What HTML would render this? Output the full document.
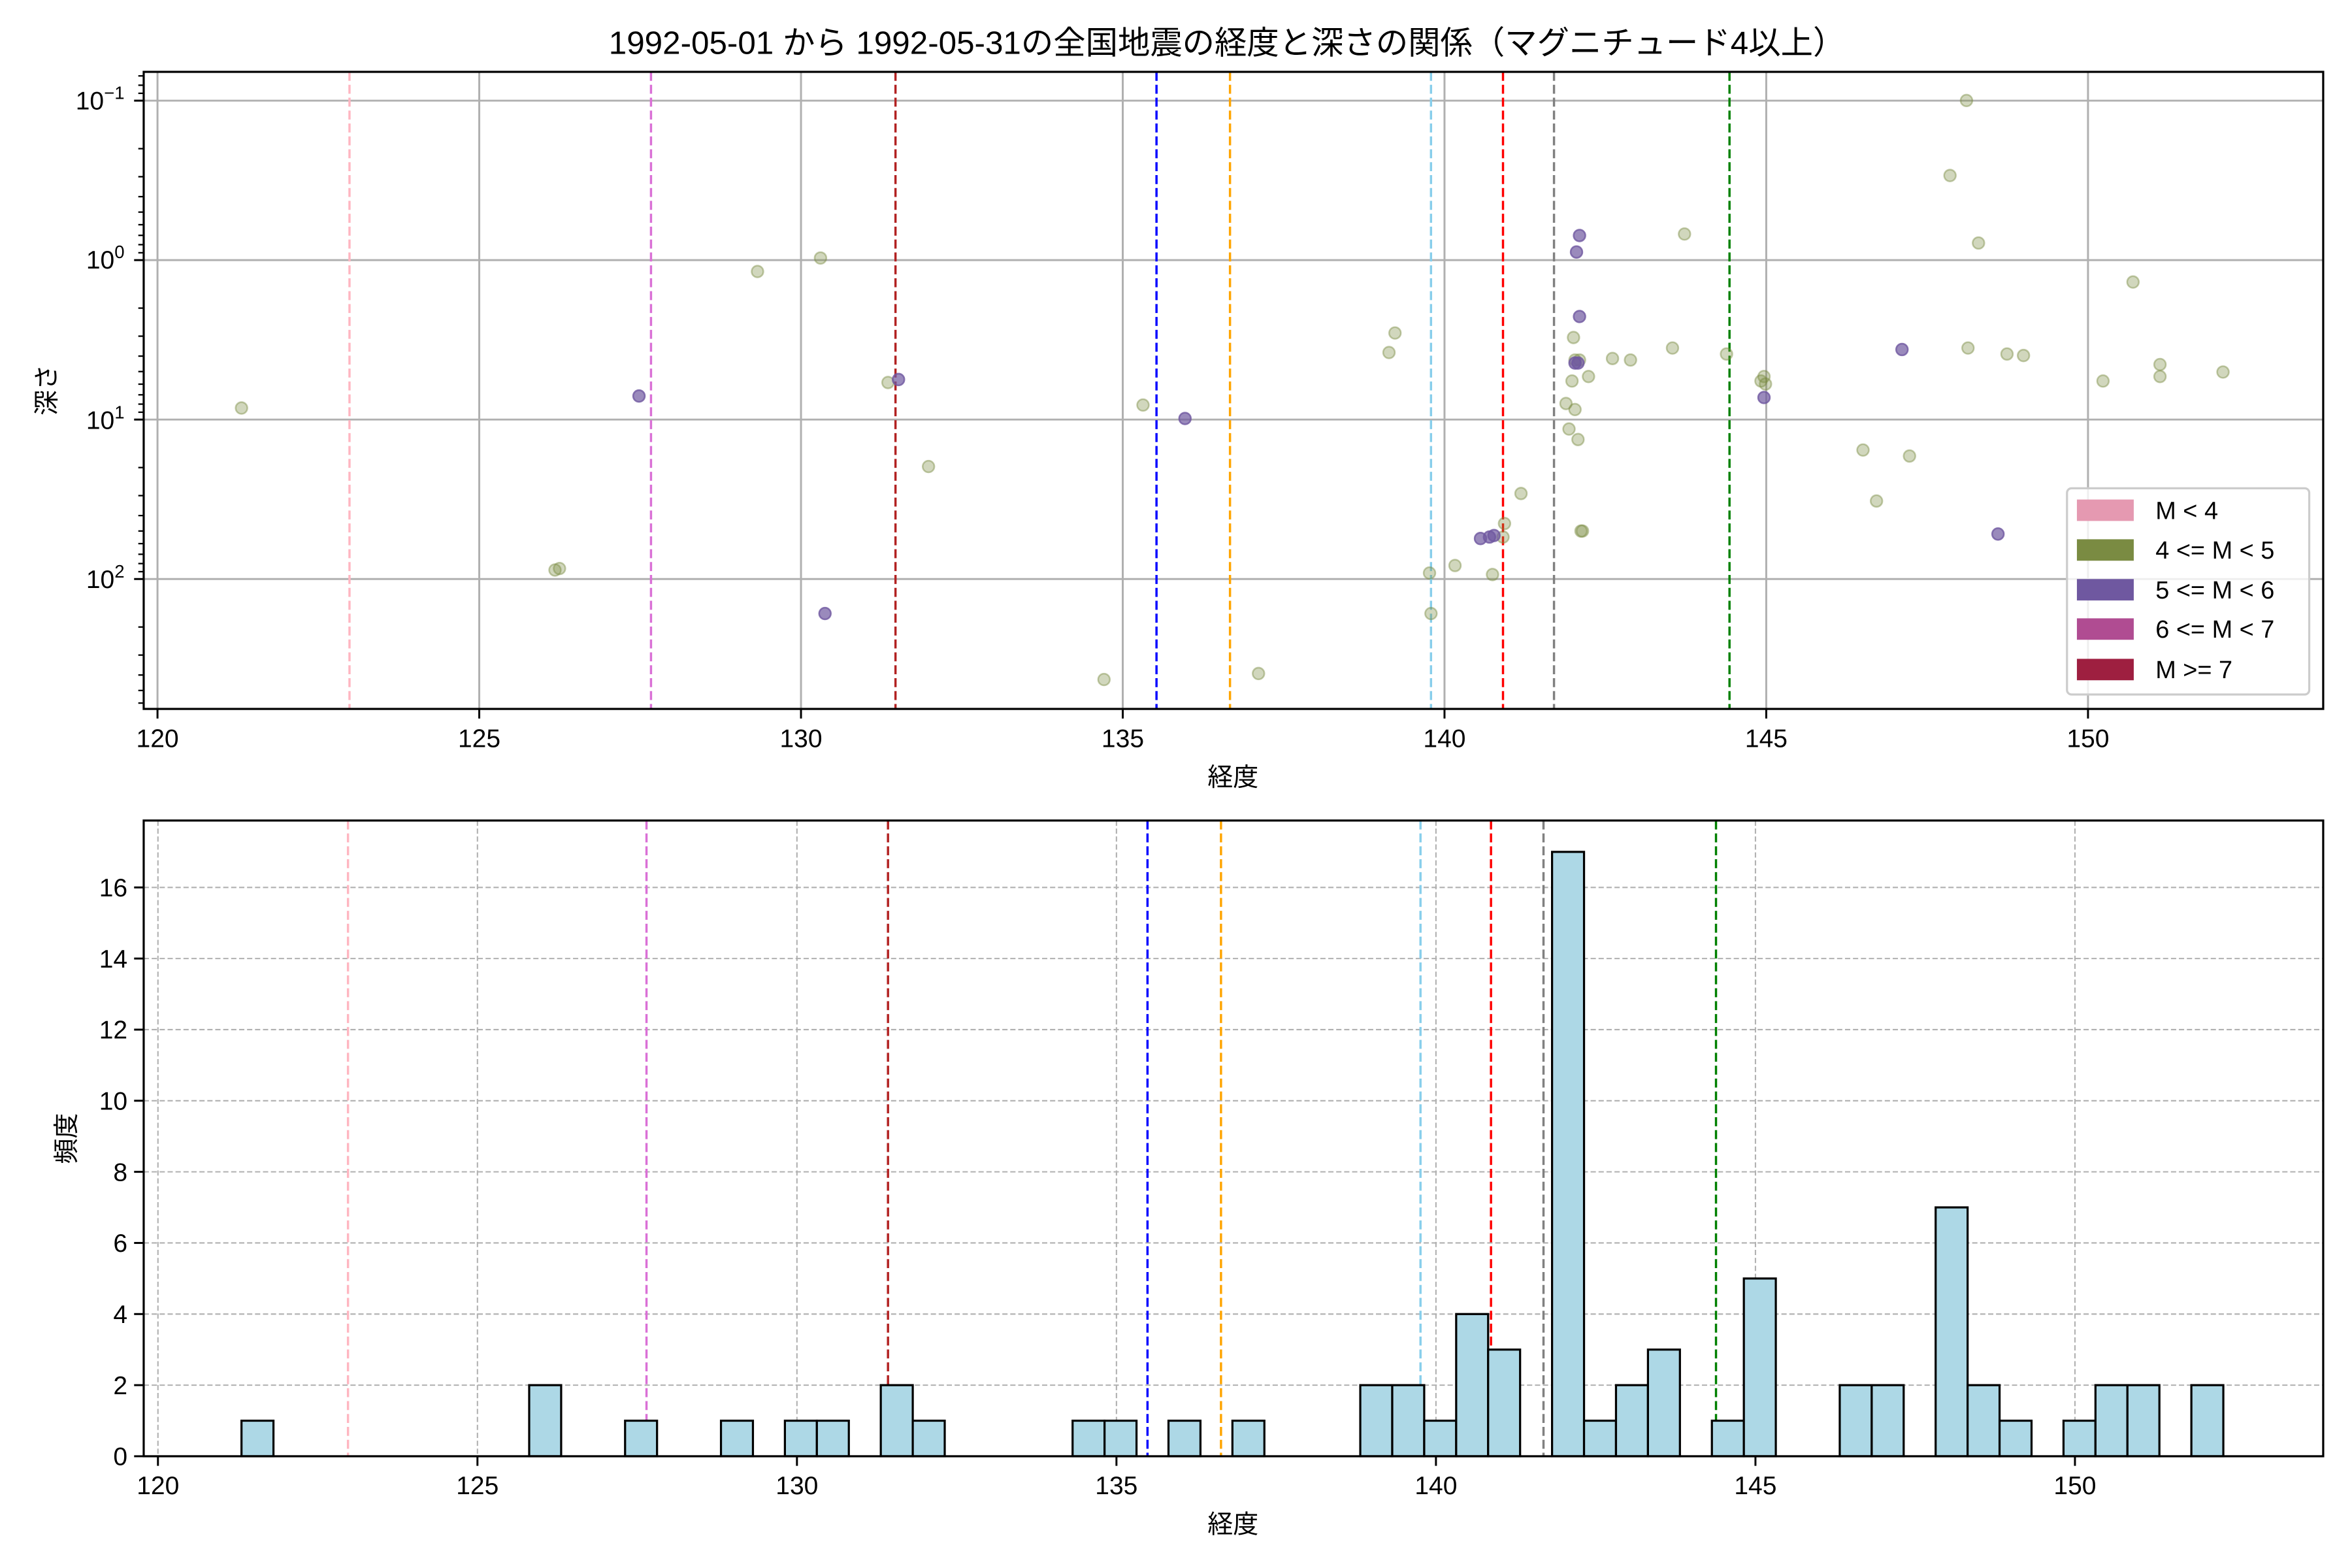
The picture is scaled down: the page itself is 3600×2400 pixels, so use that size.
<!DOCTYPE html>
<html><head><meta charset="utf-8"><style>
html,body{margin:0;padding:0;background:#fff;}
svg{display:block;}
text{font-family:"Liberation Sans","Noto Sans CJK JP",sans-serif;fill:#000;}
</style></head><body>
<svg id="s" width="3600" height="2400" viewBox="0 0 1568 1045.3" preserveAspectRatio="none" xmlns="http://www.w3.org/2000/svg">
<rect width="1568" height="1046" fill="#fff"/>
<g id="g1"></g>
<g id="g2"></g>
<text x="818" y="36" font-size="21.5" text-anchor="middle">1992-05-01 から 1992-05-31の全国地震の経度と深さの関係（マグニチュード4以上）</text>
<g font-size="17" text-anchor="middle">
<text x="105" y="498">120</text><text x="319.5" y="498">125</text><text x="534" y="498">130</text><text x="748.5" y="498">135</text><text x="963" y="498">140</text><text x="1177.5" y="498">145</text><text x="1392" y="498">150</text>
<text x="822" y="524">経度</text>
<text x="105.3" y="996">120</text><text x="318.3" y="996">125</text><text x="531.3" y="996">130</text><text x="744.3" y="996">135</text><text x="957.3" y="996">140</text><text x="1170.3" y="996">145</text><text x="1383.3" y="996">150</text>
<text x="822" y="1022">経度</text>
</g>
<g font-size="17" text-anchor="end">
<text x="83" y="73">10<tspan font-size="12" dy="-7">−1</tspan></text>
<text x="83" y="179">10<tspan font-size="12" dy="-7">0</tspan></text>
<text x="83" y="286">10<tspan font-size="12" dy="-7">1</tspan></text>
<text x="83" y="392">10<tspan font-size="12" dy="-7">2</tspan></text>
<text x="85" y="976.8">0</text><text x="85" y="929.4">2</text><text x="85" y="882">4</text><text x="85" y="834.6">6</text><text x="85" y="787.2">8</text><text x="85" y="739.8">10</text><text x="85" y="692.4">12</text><text x="85" y="645">14</text><text x="85" y="597.6">16</text>
</g>
<text font-size="17" text-anchor="middle" transform="translate(37,260) rotate(-90)">深さ</text>
<text font-size="17" text-anchor="middle" transform="translate(50,759) rotate(-90)">頻度</text>
<rect x="1378" y="325.5" width="161.5" height="137.5" rx="3" fill="#fff" fill-opacity="0.8" stroke="#ccc" stroke-width="1.4"/>
<rect x="1384.6" y="333" width="37.9" height="14.3" fill="#e599b1"/>
<rect x="1384.6" y="359.5" width="37.9" height="14.3" fill="#7a8b42"/>
<rect x="1384.6" y="386" width="37.9" height="14.3" fill="#6f58a0"/>
<rect x="1384.6" y="412.2" width="37.9" height="14.3" fill="#b04c92"/>
<rect x="1384.6" y="439.2" width="37.9" height="14.3" fill="#9e1f40"/>
<g font-size="16.5">
<text x="1437" y="346">M &lt; 4</text>
<text x="1437" y="372.5">4 &lt;= M &lt; 5</text>
<text x="1437" y="399">5 &lt;= M &lt; 6</text>
<text x="1437" y="425.2">6 &lt;= M &lt; 7</text>
<text x="1437" y="452.2">M &gt;= 7</text>
</g>
</svg>
<script>
var NS="http://www.w3.org/2000/svg";
function el(p,t,a){var e=document.createElementNS(NS,t);for(var k in a)e.setAttribute(k,a[k]);p.appendChild(e);return e;}
var g1=document.getElementById('g1'),g2=document.getElementById('g2');
var L=95.8,R=1548.8,T1=47.9,B1=472.6,T2=547,B2=970.8;
var tx=[105,319.5,534,748.5,963,1177.5,1392];
tx.forEach(function(x){el(g1,'line',{x1:x,x2:x,y1:T1,y2:B1,stroke:'#b0b0b0','stroke-width':1.3});el(g1,'line',{x1:x,x2:x,y1:B1,y2:B1+6.4,stroke:'#000','stroke-width':1.3});});
[67.1,173.4,279.7,386].forEach(function(y){el(g1,'line',{x1:L,x2:R,y1:y,y2:y,stroke:'#b0b0b0','stroke-width':1.3});el(g1,'line',{x1:L-6.4,x2:L,y1:y,y2:y,stroke:'#000','stroke-width':1.3});});
var mins=[50.6,56.8,62.2];
[67.1,173.4,279.7,386].forEach(function(Y){[32.0,50.7,64.0,74.3,82.7,89.8,96.0,101.4].forEach(function(o){if(Y+o<B1)mins.push(Y+o);});});
mins.forEach(function(y){el(g1,'line',{x1:L-3.6,x2:L,y1:y,y2:y,stroke:'#000','stroke-width':1});});
var vl=[['#ffb6c1',233,232],['#da70d6',434,431],['#b22222',597,592],['#0000ff',771,765],['#ffa500',820,814],['#87ceeb',954,947],['#ff0000',1002,994],['#808080',1036,1029],['#008000',1153,1144]];
vl.forEach(function(v){el(g1,'line',{x1:v[1],x2:v[1],y1:T1,y2:B1,stroke:v[0],'stroke-width':1.5,'stroke-dasharray':'6,2.6'});});
var ol=[[161,272],[370,380],[373,379],[505,181],[547,172],[592,255],[619,311],[736,453],[762,270],[839,449],[926,235],[930,222],[954,409],[953,382],[970,377],[995,383],[1003,349],[1002,358],[1014,329],[1044,269],[1048,254],[1049,225],[1050,240],[1053,240],[1050,273],[1046,286],[1052,293],[1054,354],[1055,354],[1059,251],[1075,239],[1087,240],[1115,232],[1123,156],[1151,236],[1174,254],[1176,251],[1177,256],[1242,300],[1251,334],[1273,304],[1300,117],[1311,67],[1312,232],[1319,162],[1338,236],[1349,237],[1402,254],[1422,188],[1440,243],[1440,251],[1482,248]];
ol.forEach(function(p){el(g1,'circle',{cx:p[0],cy:p[1],r:3.9,fill:'#7a8b42','fill-opacity':0.35,stroke:'#7a8b42','stroke-opacity':0.45,'stroke-width':1.1});});
var pu=[[426,264],[599,253],[790,279],[1053,157],[1051,168],[1053,211],[1052,242],[1050,242],[987,359],[993,358],[996,357],[1176,265],[1268,233],[1332,356],[550,409]];
pu.forEach(function(p){el(g1,'circle',{cx:p[0],cy:p[1],r:3.9,fill:'#6f58a0','fill-opacity':0.7,stroke:'#6f58a0','stroke-opacity':0.8,'stroke-width':1.1});});
el(g1,'rect',{x:L,y:T1,width:R-L,height:B1-T1,fill:'none',stroke:'#000','stroke-width':1.4});
var bx=[105.3,318.3,531.3,744.3,957.3,1170.3,1383.3];
bx.forEach(function(x){el(g2,'line',{x1:x,x2:x,y1:T2,y2:B2,stroke:'#b0b0b0','stroke-width':0.9,'stroke-dasharray':'3.5,1.8'});el(g2,'line',{x1:x,x2:x,y1:B2,y2:B2+6.4,stroke:'#000','stroke-width':1.3});});
for(var v=0;v<=16;v+=2){var y=B2-23.7*v;el(g2,'line',{x1:L,x2:R,y1:y,y2:y,stroke:'#b0b0b0','stroke-width':0.9,'stroke-dasharray':'3.5,1.8'});el(g2,'line',{x1:L-6.4,x2:L,y1:y,y2:y,stroke:'#000','stroke-width':1.3});}
vl.forEach(function(v){el(g2,'line',{x1:v[2],x2:v[2],y1:T2,y2:B2,stroke:v[0],'stroke-width':1.5,'stroke-dasharray':'6,2.6'});});
var bars=[[0,1],[9,2],[12,1],[15,1],[17,1],[18,1],[20,2],[21,1],[26,1],[27,1],[29,1],[31,1],[35,2],[36,2],[37,1],[38,4],[39,3],[41,17],[42,1],[43,2],[44,3],[46,1],[47,5],[50,2],[51,2],[53,7],[54,2],[55,1],[57,1],[58,2],[59,2],[61,2]];
var bw=21.31;
bars.forEach(function(b){var h=b[1]*23.7;el(g2,'rect',{x:161+b[0]*bw,y:B2-h,width:bw,height:h,fill:'#add8e6',stroke:'#000','stroke-width':1.4});});
el(g2,'rect',{x:L,y:T2,width:R-L,height:B2-T2,fill:'none',stroke:'#000','stroke-width':1.4});
</script>
</body></html>
